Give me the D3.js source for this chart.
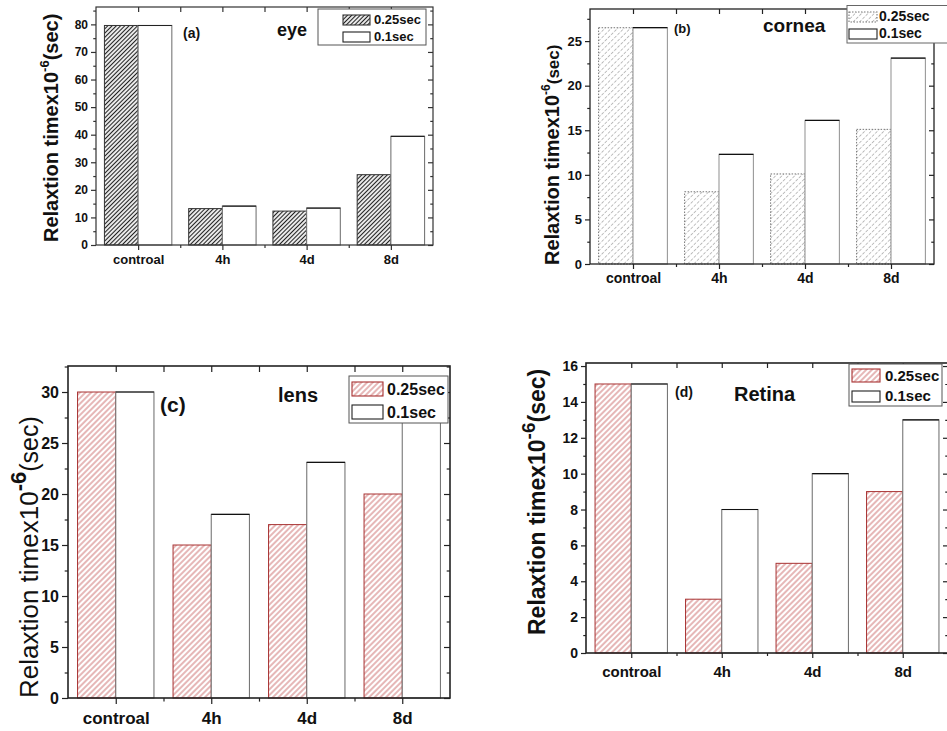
<!DOCTYPE html>
<html>
<head>
<meta charset="utf-8">
<script src="https://cdn.jsdelivr.net/npm/d3@7"></script>
<style>
  body { margin: 0; background: #fff; }
  svg { display: block; }
</style>
</head>
<body>
<div id="chart"></div>
<script>
// Relaxation time, four tissues, two pulse times

const categories = ["controal", "4h", "4d", "8d"];
const seriesNames = ["0.25sec", "0.1sec"];

const eyeSlow = [79.6, 13.2, 12.3, 25.5];
const eyeFast = [79.6, 14.1, 13.4, 39.4];
const corneaSlow = [26.5, 8.1, 10.1, 15.1];
const corneaFast = [26.5, 12.3, 16.1, 23.1];
const lensSlow = [30, 15, 17, 20];
const lensFast = [30, 18, 23.1, 28.5];
const retinaSlow = [15, 3, 5, 9];
const retinaFast = [15, 8, 10, 13];

const eyeTicks = [0, 10, 20, 30, 40, 50, 60, 70, 80];
const corneaTicks = [0, 5, 10, 15, 20, 25];
const lensTicks = [0, 5, 10, 15, 20, 25, 30];
const retinaTicks = [0, 2, 4, 6, 8, 10, 12, 14, 16];

const FONT = "'Liberation Sans', Arial, sans-serif";

const svg = d3.select("#chart").append("svg")
    .attr("width", 947)
    .attr("height", 731)
    .attr("viewBox", [0, 0, 947, 731]);

const defs = svg.append("defs");

function addHatch(id, color, spacing, width, dash) {
    const p = defs.append("pattern")
        .attr("id", id)
        .attr("patternUnits", "userSpaceOnUse")
        .attr("width", spacing)
        .attr("height", spacing)
        .attr("patternTransform", "rotate(45)");
    p.append("rect").attr("width", spacing).attr("height", spacing).attr("fill", "#fff");
    p.append("line")
        .attr("x1", spacing / 2).attr("y1", 0)
        .attr("x2", spacing / 2).attr("y2", spacing)
        .attr("stroke", color)
        .attr("stroke-width", width)
        .attr("stroke-dasharray", dash || null);
}

addHatch("hatch-dark", "#222", 3, 1.2);
addHatch("hatch-light", "#b8b8b8", 4.5, 0.9, "2,1.5");
addHatch("hatch-red", "#c04a4a", 4, 0.8);

const panels = [
    {
        slow: eyeSlow, fast: eyeFast, ticks: eyeTicks,
        x0: 96, x1: 433, y0: 7, y1: 245, yMax: 86.3,
        frame: "#333", frameW: 1.2, tickLen: 5, tickFont: 12, xFont: 13, xBase: 264,
        hatch: "hatch-dark", slowStroke: "#333", slowDash: null, fastStroke: "#777", fastTop: "#222",
        label: { x: 58, y: 242, size: 20, weight: "bold", supSize: 13, tailSize: 20 },
        legend: { box: [318, 9, 108, 36], sw: [[343, 15, 27, 10], [343, 32, 27, 10]], tx: 374, base: [24, 41], size: 13, stroke: "#555" },
        tag: { text: "(a)", x: 183, y: 38, size: 14 },
        title: { text: "eye", x: 277, y: 36, size: 18 }
    },
    {
        slow: corneaSlow, fast: corneaFast, ticks: corneaTicks,
        x0: 590, x1: 934, y0: 9, y1: 264, yMax: 28.6,
        frame: "#222", frameW: 1.3, tickLen: 5, tickFont: 13, xFont: 14, xBase: 283,
        hatch: "hatch-light", slowStroke: "#777", slowDash: "1.5,1.5", fastStroke: "#999", fastTop: "#111",
        label: { x: 559, y: 265, size: 20, weight: "bold", supSize: 12, tailSize: 17 },
        legend: { box: [847, 5.5, 120, 37.5], sw: [[849, 12, 28, 10], [849, 29, 28, 10]], tx: 879, base: [21, 38], size: 14, stroke: "#666" },
        tag: { text: "(b)", x: 674, y: 33, size: 13 },
        title: { text: "cornea", x: 763, y: 32, size: 19 }
    },
    {
        slow: lensSlow, fast: lensFast, ticks: lensTicks,
        x0: 68, x1: 450, y0: 366, y1: 698, yMax: 32.55,
        frame: "#222", frameW: 1.6, tickLen: 6, tickFont: 16, xFont: 17, xBase: 724,
        hatch: "hatch-red", slowStroke: "#a83232", slowDash: null, fastStroke: "#777", fastTop: "#111",
        label: { x: 38, y: 698, size: 26, weight: "normal", supSize: 22, tailSize: 25 },
        legend: { box: [349, 376, 99, 47], sw: [[352, 382, 31, 14], [352, 405, 31, 14]], tx: 387, base: [395, 418], size: 16, stroke: "#555" },
        tag: { text: "(c)", x: 160, y: 412, size: 21 },
        title: { text: "lens", x: 278, y: 402, size: 20 }
    },
    {
        slow: retinaSlow, fast: retinaFast, ticks: retinaTicks,
        x0: 586, x1: 948, y0: 363, y1: 653, yMax: 16.17,
        frame: "#222", frameW: 1.6, tickLen: 5, tickFont: 14, xFont: 15, xBase: 677,
        hatch: "hatch-red", slowStroke: "#a83232", slowDash: null, fastStroke: "#777", fastTop: "#111",
        label: { x: 545, y: 635, size: 23, weight: "bold", supSize: 19, tailSize: 23 },
        legend: { box: [849, 364, 93, 42], sw: [[852, 369, 28, 13], [852, 391, 28, 11]], tx: 885, base: [381, 401], size: 15, stroke: "#555" },
        tag: { text: "(d)", x: 675, y: 397, size: 14 },
        title: { text: "Retina", x: 734, y: 401, size: 20 }
    }
];

panels.forEach(drawPanel);

function drawPanel(p) {
    const g = svg.append("g");

    const x = d3.scaleBand().domain(categories).range([p.x0, p.x1])
        .paddingInner(0.2).paddingOuter(0.1);
    const xs = d3.scaleBand().domain(seriesNames).range([0, x.bandwidth()]);
    const xi = d3.scaleLinear().domain([-0.5, categories.length - 0.5]).range([p.x0, p.x1]);
    const y = d3.scaleLinear().domain([0, p.yMax]).range([p.y1, p.y0]);

    const minor = p.ticks.slice(0, -1).map((t, i) => (t + p.ticks[i + 1]) / 2);
    const last = p.ticks[p.ticks.length - 1];
    const step = p.ticks[1] - p.ticks[0];
    if (last + step / 2 < p.yMax) minor.push(last + step / 2);
    const catIdx = categories.map((c, i) => i);
    const catMid = categories.slice(1).map((c, i) => i + 0.5);

    // bars: slow series (hatched)
    g.append("g").selectAll("rect")
        .data(categories.map((c, i) => ({ c, v: p.slow[i] })))
        .join("rect")
        .attr("x", d => x(d.c) + xs(seriesNames[0]))
        .attr("y", d => y(d.v))
        .attr("width", xs.bandwidth())
        .attr("height", d => y(0) - y(d.v))
        .attr("fill", `url(#${p.hatch})`)
        .attr("stroke", p.slowStroke)
        .attr("stroke-dasharray", p.slowDash)
        .attr("stroke-width", 1);

    // bars: fast series (open)
    const fast = g.append("g").selectAll("g")
        .data(categories.map((c, i) => ({ c, v: p.fast[i] })))
        .join("g");
    fast.append("rect")
        .attr("x", d => x(d.c) + xs(seriesNames[1]))
        .attr("y", d => y(d.v))
        .attr("width", xs.bandwidth())
        .attr("height", d => y(0) - y(d.v))
        .attr("fill", "#fff")
        .attr("stroke", p.fastStroke)
        .attr("stroke-width", 1.1);
    fast.append("line")
        .attr("x1", d => x(d.c) + xs(seriesNames[1]))
        .attr("x2", d => x(d.c) + xs(seriesNames[1]) + xs.bandwidth())
        .attr("y1", d => y(d.v))
        .attr("y2", d => y(d.v))
        .attr("stroke", p.fastTop)
        .attr("stroke-width", 1.2);

    // axes
    const axisStyle = sel => {
        sel.select(".domain").remove();
        sel.attr("font-family", FONT).attr("font-weight", "bold").attr("color", p.frame);
        sel.selectAll("line").attr("stroke-width", 1.2);
    };

    g.append("g").attr("transform", `translate(${p.x0},0)`)
        .call(d3.axisLeft(y).tickValues(p.ticks).tickSize(p.tickLen).tickPadding(3))
        .call(axisStyle)
        .attr("font-size", p.tickFont)
        .selectAll("text").attr("fill", "#111");
    g.append("g").attr("transform", `translate(${p.x0},0)`)
        .call(d3.axisLeft(y).tickValues(minor).tickSize(p.tickLen * 0.55).tickFormat(""))
        .call(axisStyle);
    g.append("g").attr("transform", `translate(${p.x1},0)`)
        .call(d3.axisRight(y).tickValues(p.ticks).tickSize(-p.tickLen).tickFormat(""))
        .call(axisStyle);
    g.append("g").attr("transform", `translate(${p.x1},0)`)
        .call(d3.axisRight(y).tickValues(minor).tickSize(-p.tickLen * 0.55).tickFormat(""))
        .call(axisStyle);

    const bottom = g.append("g").attr("transform", `translate(0,${p.y1})`)
        .call(d3.axisBottom(xi).tickValues(catIdx).tickSize(p.tickLen).tickFormat(i => categories[i]))
        .call(axisStyle)
        .attr("font-size", p.xFont);
    bottom.selectAll("text")
        .attr("fill", "#111")
        .attr("dy", null)
        .attr("y", p.xBase - p.y1);
    g.append("g").attr("transform", `translate(0,${p.y1})`)
        .call(d3.axisBottom(xi).tickValues(catMid).tickSize(p.tickLen * 0.6).tickFormat(""))
        .call(axisStyle);
    g.append("g").attr("transform", `translate(0,${p.y0})`)
        .call(d3.axisTop(xi).tickValues(catIdx.concat(catMid)).tickSize(-p.tickLen).tickFormat(""))
        .call(axisStyle);

    // frame
    g.append("rect")
        .attr("x", p.x0).attr("y", p.y0)
        .attr("width", p.x1 - p.x0).attr("height", p.y1 - p.y0)
        .attr("fill", "none")
        .attr("stroke", p.frame)
        .attr("stroke-width", p.frameW);

    // y label
    const lab = g.append("text")
        .attr("transform", `translate(${p.label.x},${p.label.y}) rotate(-90)`)
        .attr("font-family", FONT)
        .attr("font-size", p.label.size)
        .attr("font-weight", p.label.weight)
        .attr("fill", "#111");
    lab.append("tspan").text("Relaxtion timex10");
    lab.append("tspan").text("-6")
        .attr("font-size", p.label.supSize)
        .attr("font-weight", "bold")
        .attr("dy", -p.label.size * 0.45);
    lab.append("tspan").text("(sec)")
        .attr("font-size", p.label.tailSize)
        .attr("dy", p.label.size * 0.45);

    // legend
    const L = p.legend;
    const lg = g.append("g").attr("font-family", FONT).attr("font-weight", "bold");
    lg.append("rect")
        .attr("x", L.box[0]).attr("y", L.box[1])
        .attr("width", L.box[2]).attr("height", L.box[3])
        .attr("fill", "#fff")
        .attr("stroke", L.stroke)
        .attr("stroke-width", 1);
    seriesNames.forEach((name, j) => {
        const s = L.sw[j];
        lg.append("rect")
            .attr("x", s[0]).attr("y", s[1])
            .attr("width", s[2]).attr("height", s[3])
            .attr("fill", j === 0 ? `url(#${p.hatch})` : "#fff")
            .attr("stroke", j === 0 ? p.slowStroke : "#222")
            .attr("stroke-dasharray", j === 0 ? p.slowDash : null)
            .attr("stroke-width", 1.1);
        lg.append("text")
            .attr("x", L.tx).attr("y", L.base[j])
            .attr("font-size", L.size)
            .attr("fill", "#111")
            .text(name);
    });

    // panel tag and tissue name
    [p.tag, p.title].forEach(t => {
        g.append("text")
            .attr("x", t.x).attr("y", t.y)
            .attr("font-family", FONT)
            .attr("font-weight", "bold")
            .attr("font-size", t.size)
            .attr("fill", "#111")
            .text(t.text);
    });
}
</script>
</body>
</html>
